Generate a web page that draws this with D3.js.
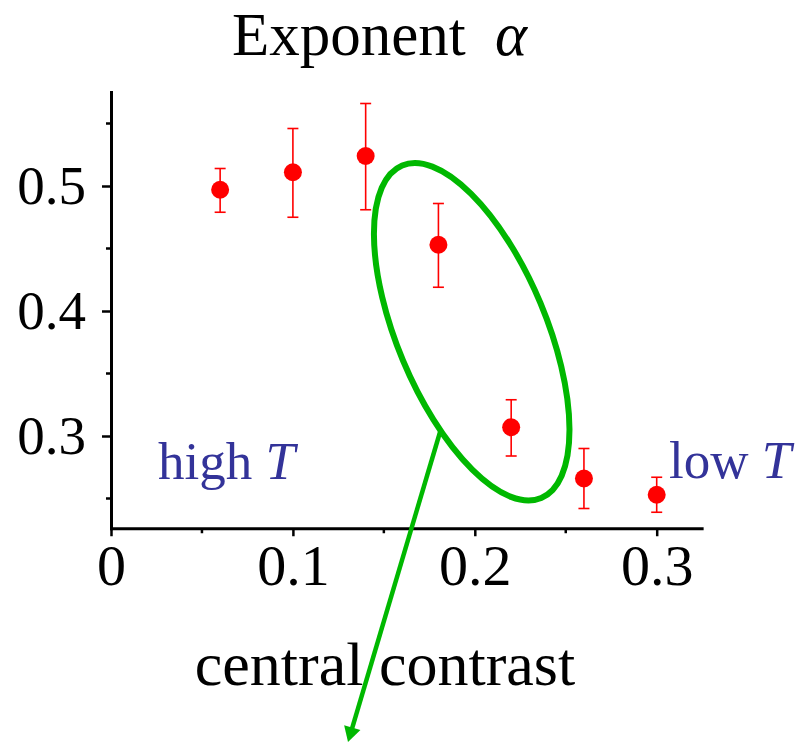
<!DOCTYPE html>
<html>
<head>
<meta charset="utf-8">
<script src="https://cdn.jsdelivr.net/npm/d3@7"></script>
<style>
  html, body { margin: 0; padding: 0; background: #fff; }
  svg { display: block; }
  text { font-family: "Liberation Serif", "Times New Roman", serif; }
</style>
</head>
<body>
<svg id="chart" width="807" height="743"></svg>
<script>
// Measured exponent alpha against the x parameter, with error bar limits
const xValues  = [0.06, 0.10, 0.14, 0.18, 0.22, 0.26, 0.30];
const alpha    = [0.497, 0.511, 0.524, 0.453, 0.307, 0.266, 0.253];
const alphaLow = [0.479, 0.475, 0.481, 0.419, 0.284, 0.242, 0.239];
const alphaHigh= [0.514, 0.546, 0.566, 0.486, 0.329, 0.290, 0.267];

const xTicks = [0, 0.1, 0.2, 0.3];
const xMinorTicks = [0.05, 0.15, 0.25];
const yTicks = [0.3, 0.4, 0.5];
const yMinorTicks = [0.25, 0.35, 0.45, 0.55];
const xTickLabels = ["0", "0.1", "0.2", "0.3"];
const yTickLabels = ["0.3", "0.4", "0.5"];

const titleText = "Exponent ";
const titleSymbol = "\u03B1";
const bottomLabel = "central contrast";
const leftNote = "high ";
const rightNote = "low ";
const noteSymbol = "T";

// Highlight ellipse (centre in data units) and the arrow leaving it
const ellipseCentre = [0.1983, 0.3834];
const arrowFrom = [0.1809, 0.3032];
const arrowTo = [0.1303, 0.0552];

const svg = d3.select("#chart");

const x = d3.scaleLinear().domain([0, 0.3]).range([111, 656.7]);
const y = d3.scaleLinear().domain([0.3, 0.5]).range([436, 186]);
const xEnd = 0.3247, yBottom = 0.2262, yTop = 0.5752;

const red = "#ff0000";
const green = "#00b800";
const navy = "#333399";

// Title
svg.append("text")
  .attr("x", 232).attr("y", 55)
  .attr("font-size", 61)
  .attr("fill", "#000")
  .text(titleText)
  .append("tspan")
  .attr("dx", 14)
  .attr("font-style", "italic")
  .text(titleSymbol);

// X axis
const xAxis = svg.append("g").attr("transform", `translate(0,${y(yBottom)})`);
const xs = d3.scaleLinear().domain([0, xEnd]).range([x(0), x(xEnd)]);
xAxis.call(d3.axisBottom(xs).tickValues(xTicks).tickSizeInner(8).tickSizeOuter(0).tickPadding(8)
  .tickFormat((d, i) => xTickLabels[i]));
xAxis.append("g").selectAll("line").data(xMinorTicks).join("line")
  .attr("x1", d => x(d)).attr("x2", d => x(d)).attr("y1", 0).attr("y2", 5)
  .attr("stroke", "#000").attr("stroke-width", 2.5);

// Y axis
const yAxis = svg.append("g").attr("transform", `translate(${x(0)},0)`);
const ys = d3.scaleLinear().domain([yBottom, yTop]).range([y(yBottom), y(yTop)]);
yAxis.call(d3.axisLeft(ys).tickValues(yTicks).tickSizeInner(9).tickSizeOuter(0).tickPadding(16)
  .tickFormat((d, i) => yTickLabels[i]));
yAxis.append("g").selectAll("line").data(yMinorTicks).join("line")
  .attr("y1", d => y(d)).attr("y2", d => y(d)).attr("x1", 0).attr("x2", -5)
  .attr("stroke", "#000").attr("stroke-width", 2.5);

[xAxis, yAxis].forEach(g => {
  g.select(".domain").attr("stroke", "#000").attr("stroke-width", 3).attr("stroke-linecap", "square");
  g.selectAll(".tick line").attr("stroke", "#000").attr("stroke-width", 2.5);
  g.selectAll(".tick text").attr("font-family", "Liberation Serif, Times New Roman, serif")
    .attr("fill", "#000");
});
xAxis.selectAll(".tick text").attr("font-size", 58);
yAxis.selectAll(".tick text").attr("font-size", 55);

// Notes
const leftT = svg.append("text").attr("x", 158).attr("y", 479)
  .attr("font-size", 53).attr("fill", navy).text(leftNote);
leftT.append("tspan").attr("font-style", "italic").text(noteSymbol);
const rightT = svg.append("text").attr("x", 669).attr("y", 478)
  .attr("font-size", 53).attr("fill", navy).text(rightNote);
rightT.append("tspan").attr("font-style", "italic").text(noteSymbol);

// Error bars and points
const pts = xValues.map((v, i) => ({ x: v, a: alpha[i], lo: alphaLow[i], hi: alphaHigh[i] }));
const eb = svg.append("g").attr("stroke", red).attr("stroke-width", 1.6).attr("fill", "none");
eb.selectAll("line.v").data(pts).join("line").attr("class", "v")
  .attr("x1", d => x(d.x)).attr("x2", d => x(d.x))
  .attr("y1", d => y(d.lo)).attr("y2", d => y(d.hi));
eb.selectAll("line.t").data(pts).join("line").attr("class", "t")
  .attr("x1", d => x(d.x) - 5.5).attr("x2", d => x(d.x) + 5.5)
  .attr("y1", d => y(d.hi)).attr("y2", d => y(d.hi));
eb.selectAll("line.b").data(pts).join("line").attr("class", "b")
  .attr("x1", d => x(d.x) - 5.5).attr("x2", d => x(d.x) + 5.5)
  .attr("y1", d => y(d.lo)).attr("y2", d => y(d.lo));
svg.append("g").selectAll("circle").data(pts).join("circle")
  .attr("cx", d => x(d.x)).attr("cy", d => y(d.a)).attr("r", 9).attr("fill", red);

// Highlight ellipse
svg.append("ellipse")
  .attr("transform", `translate(${x(ellipseCentre[0])},${y(ellipseCentre[1])}) rotate(-22.7)`)
  .attr("rx", 74.5).attr("ry", 180.2)
  .attr("fill", "none").attr("stroke", green).attr("stroke-width", 6);

// Bottom label
svg.append("text").attr("x", 385).attr("y", 685).attr("text-anchor", "middle")
  .attr("font-size", 62).attr("fill", "#000").text(bottomLabel);

// Arrow: shaft plus a filled triangular head at the tip
const ax0 = x(arrowFrom[0]), ay0 = y(arrowFrom[1]), ax1 = x(arrowTo[0]), ay1 = y(arrowTo[1]);
const len = Math.hypot(ax1 - ax0, ay1 - ay0);
const ux = (ax1 - ax0) / len, uy = (ay1 - ay0) / len;
const headLen = 15, headHalf = 8.5;
svg.append("line")
  .attr("x1", ax0).attr("y1", ay0)
  .attr("x2", ax1 - ux * (headLen - 2)).attr("y2", ay1 - uy * (headLen - 2))
  .attr("stroke", green).attr("stroke-width", 4.5);
const bx = ax1 - ux * headLen, by = ay1 - uy * headLen;
svg.append("path")
  .attr("d", `M${ax1},${ay1} L${bx - uy * headHalf},${by + ux * headHalf} L${bx + uy * headHalf},${by - ux * headHalf} Z`)
  .attr("fill", green);
</script>
</body>
</html>
